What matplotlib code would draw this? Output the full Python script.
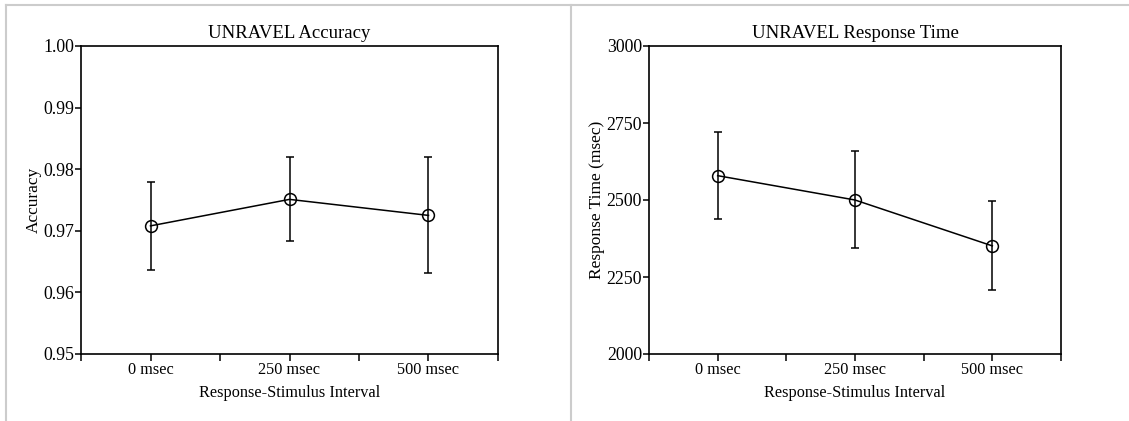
import matplotlib.pyplot as plt
from matplotlib.lines import Line2D

plt.rcParams["font.family"] = ["Liberation Serif", "DejaVu Serif"]

categories = ["0 msec", "250 msec", "500 msec"]

acc_mean = [0.9708, 0.9751, 0.9725]
acc_upper = [0.9780, 0.9819, 0.9819]
acc_lower = [0.9636, 0.9684, 0.9631]

rt_mean = [2579, 2500, 2351]
rt_upper = [2720, 2658, 2496]
rt_lower = [2439, 2345, 2207]

W, H = 1129, 421
fig = plt.figure(figsize=(W / 100, H / 100), dpi=100)


def px_axes(x0, x1, y0, y1):
    return fig.add_axes([x0 / W, (H - y1) / H, (x1 - x0) / W, (y1 - y0) / H])


def plot_panel(ax, mean, upper, lower, ylim, yticks, ylabel, title, fmt):
    x = list(range(len(categories)))
    yerr = [[m - lo for m, lo in zip(mean, lower)], [up - m for m, up in zip(mean, upper)]]
    ax.errorbar(x, mean, yerr=yerr, color="black", lw=1.1, elinewidth=1.1,
                capsize=3.0, capthick=1.1, marker="o", markersize=8.5,
                markerfacecolor="none", markeredgecolor="black", markeredgewidth=1.1)
    ax.set_xlim(-0.5, len(categories) - 0.5)
    ax.set_ylim(*ylim)
    ax.set_yticks(yticks)
    ax.set_yticklabels([fmt.format(v) for v in yticks])
    ax.set_xticks(x)
    ax.set_xticklabels(categories)
    ax.set_xticks([-0.5, 0.5, 1.5, 2.5], minor=True)
    ax.tick_params(axis="both", which="both", direction="out", width=1.1,
                   pad=1.0, top=False, right=False)
    ax.tick_params(axis="x", which="both", length=5, labelsize=11.7)
    ax.tick_params(axis="y", which="both", length=4, labelsize=12.8)
    for s in ax.spines.values():
        s.set_linewidth(1.2)
    ax.set_title(title, fontsize=13.5, pad=6)
    ax.set_xlabel("Response-Stimulus Interval", fontsize=11.7, labelpad=5)
    ax.set_ylabel(ylabel, fontsize=12.5, labelpad=1)


ax1 = px_axes(81, 498, 46, 354)
plot_panel(ax1, acc_mean, acc_upper, acc_lower, (0.95, 1.00),
           [0.95, 0.96, 0.97, 0.98, 0.99, 1.00], "Accuracy", "UNRAVEL Accuracy", "{:.2f}")

ax2 = px_axes(649, 1061, 46, 354)
plot_panel(ax2, rt_mean, rt_upper, rt_lower, (2000, 3000),
           [2000, 2250, 2500, 2750, 3000], "Response Time (msec)", "UNRAVEL Response Time", "{:d}")

# light gray page frame
gray = "#cccccc"
fig.add_artist(Line2D([6 / W, 1], [1 - 5 / H, 1 - 5 / H], color=gray, lw=1.5, transform=fig.transFigure))
fig.add_artist(Line2D([6 / W, 6 / W], [0, 1 - 5 / H], color=gray, lw=1.5, transform=fig.transFigure))
fig.add_artist(Line2D([571 / W, 571 / W], [0, 1 - 5 / H], color=gray, lw=1.5, transform=fig.transFigure))

fig.savefig("out.png", dpi=100)
